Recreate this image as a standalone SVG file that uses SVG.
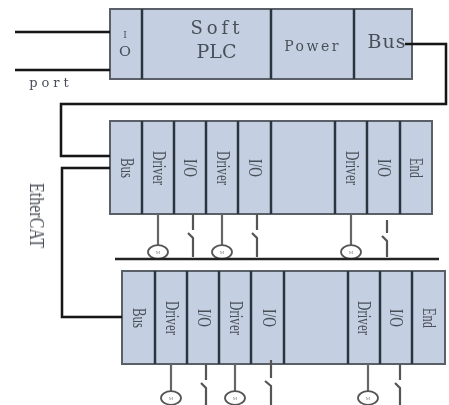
<svg xmlns="http://www.w3.org/2000/svg" width="449" height="405" viewBox="0 0 449 405">
<defs>
<filter id="soft" x="0" y="0" width="449" height="405" filterUnits="userSpaceOnUse"><feGaussianBlur stdDeviation="0.45"/></filter>
<g id="motor"><ellipse cx="0" cy="0" rx="10" ry="6.800" fill="#fff" stroke="#555" stroke-width="1.800"/><text x="0" y="2" class="m">M</text></g>
</defs>
<style>
.box{fill:#c4d0e2;stroke:#5a6068;stroke-width:2}
.div{stroke:#2c3640;stroke-width:2.500;fill:none}
.wire{fill:none;stroke:#161616;stroke-width:2.500}
.stem{stroke:#666;stroke-width:2.200;fill:none}
.sw{stroke:#555;stroke-width:2.200;fill:none}
text{font-family:"Liberation Serif","DejaVu Serif",serif;fill:#4a4f58}
.v{font-size:19px;text-anchor:middle}
.m{font-size:5px;text-anchor:middle;fill:#888}
.h{text-anchor:middle;font-family:"DejaVu Serif","Liberation Serif",serif}
</style>
<rect width="449" height="405" fill="#fff"/>
<g filter="url(#soft)">
<g id="plc">
<rect class="box" x="110" y="9" width="302" height="70"/>
<path class="div" d="M142 9V79M271 9V79M354 9V79"/>
<text class="h" x="125" y="38" font-size="9">I</text>
<text class="h" x="125" y="56" font-size="12" textLength="12" lengthAdjust="spacingAndGlyphs">O</text>
<text class="h" x="217" y="34" font-size="18" letter-spacing="4">Soft</text>
<text class="h" x="216.500" y="58" font-size="19">PLC</text>
<text class="h" x="312.500" y="51" font-size="14" letter-spacing="2.500">Power</text>
<text class="h" x="387" y="47.500" font-size="19" letter-spacing="1">Bus</text>
</g>
<g id="port-label"><text class="h" x="51" y="87" font-size="13" letter-spacing="4" fill="#666">port</text></g>
<g id="ethercat-label"><text transform="translate(30 215.500) rotate(90)" text-anchor="middle" font-size="21" textLength="65" lengthAdjust="spacingAndGlyphs">EtherCAT</text></g>
<g id="rack1">
<rect class="box" x="110" y="121" width="322" height="93"/>
<path class="div" d="M142 121V214M174 121V214M206 121V214M238 121V214M271 121V214M335 121V214M367 121V214M400 121V214"/>
<text class="v" transform="translate(121 168) rotate(90)" textLength="20" lengthAdjust="spacingAndGlyphs">Bus</text>
<text class="v" transform="translate(153 168) rotate(90)" textLength="34" lengthAdjust="spacingAndGlyphs">Driver</text>
<text class="v" transform="translate(184 168) rotate(90)" textLength="18" lengthAdjust="spacingAndGlyphs">I/O</text>
<text class="v" transform="translate(217 168) rotate(90)" textLength="34" lengthAdjust="spacingAndGlyphs">Driver</text>
<text class="v" transform="translate(249 168) rotate(90)" textLength="18" lengthAdjust="spacingAndGlyphs">I/O</text>
<text class="v" transform="translate(346 168) rotate(90)" textLength="34" lengthAdjust="spacingAndGlyphs">Driver</text>
<text class="v" transform="translate(378 168) rotate(90)" textLength="18" lengthAdjust="spacingAndGlyphs">I/O</text>
<text class="v" transform="translate(410 168) rotate(90)" textLength="20" lengthAdjust="spacingAndGlyphs">End</text>
<path class="stem" d="M158 214V246M222 214V246M351 214V246"/>
<use href="#motor" x="158" y="252"/><use href="#motor" x="222" y="252"/><use href="#motor" x="351" y="252"/>
<path class="sw" d="M193 214V230M188 233L193 238V257M257 214V230M252 233L257 238V257M387 220V233M382 236L387 241V257"/>
</g>
<g id="rack2">
<rect class="box" x="122" y="271" width="323" height="93"/>
<path class="div" d="M155 271V364M187 271V364M219 271V364M251 271V364M284 271V364M348 271V364M380 271V364M412 271V364"/>
<text class="v" transform="translate(133 318) rotate(90)" textLength="20" lengthAdjust="spacingAndGlyphs">Bus</text>
<text class="v" transform="translate(166 318) rotate(90)" textLength="34" lengthAdjust="spacingAndGlyphs">Driver</text>
<text class="v" transform="translate(198 318) rotate(90)" textLength="18" lengthAdjust="spacingAndGlyphs">I/O</text>
<text class="v" transform="translate(230 318) rotate(90)" textLength="34" lengthAdjust="spacingAndGlyphs">Driver</text>
<text class="v" transform="translate(263 318) rotate(90)" textLength="18" lengthAdjust="spacingAndGlyphs">I/O</text>
<text class="v" transform="translate(358 318) rotate(90)" textLength="34" lengthAdjust="spacingAndGlyphs">Driver</text>
<text class="v" transform="translate(390 318) rotate(90)" textLength="18" lengthAdjust="spacingAndGlyphs">I/O</text>
<text class="v" transform="translate(423 318) rotate(90)" textLength="20" lengthAdjust="spacingAndGlyphs">End</text>
<path class="stem" d="M171 364V392M235 364V392M368 364V392"/>
<use href="#motor" x="171" y="398"/><use href="#motor" x="235" y="398"/><use href="#motor" x="368" y="398"/>
<path class="sw" d="M206 364V380M201 383L206 388V405M271 360V378M265 381L271 386V405M400 364V380M395 383L400 388V405"/>
</g>
<g id="connectors">
<path class="wire" d="M15 32H110M15 70H110"/>
<path class="wire" d="M405 44H446V104H61V156H110"/>
<path class="wire" d="M110 168H62V317H122"/>
<path d="M115 259H439" fill="none" stroke="#222" stroke-width="2.500"/>
</g>
</g>
</svg>
